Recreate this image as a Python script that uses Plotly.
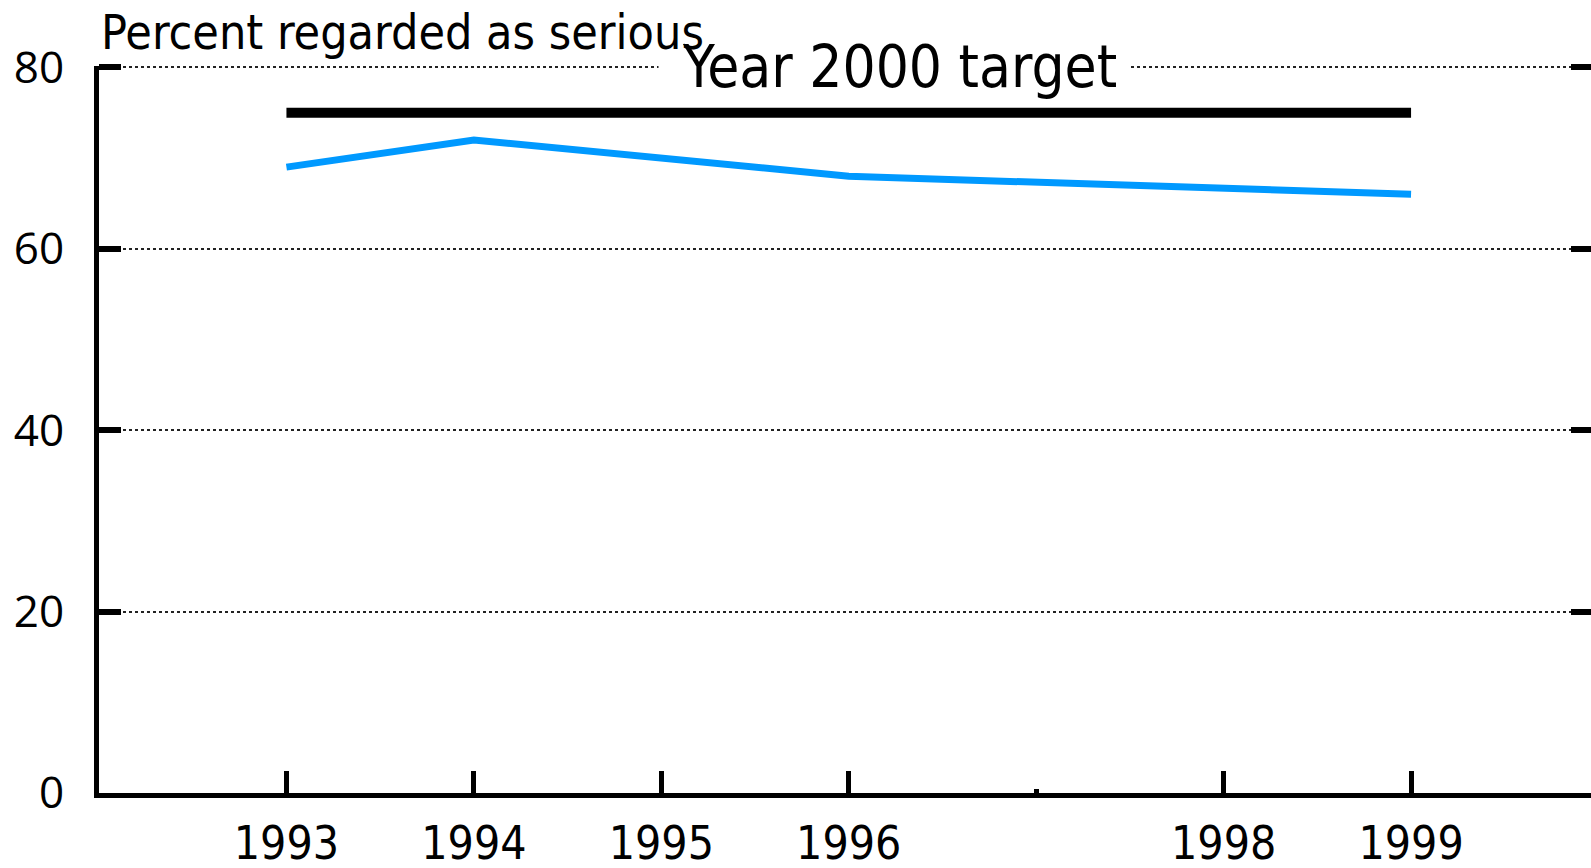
import plotly.graph_objects as go

# survey years and share of people regarding it as serious
years = [1993, 1994, 1996, 1999]
percent_serious = [69, 72, 68, 66]

# year 2000 target
target_years = [1993, 1999]
target_values = [75, 75]

tick_years = [1993, 1994, 1995, 1996, 1998, 1999]
tick_labels = ["1993", "1994", "1995", "1996", "1998", "1999"]
y_ticks = [0, 20, 40, 60, 80]

NARROW = "Liberation Sans Narrow, DejaVu Sans Condensed, Arial Narrow, sans-serif"

fig = go.Figure()
fig.add_trace(go.Scatter(x=target_years, y=target_values, mode="lines",
                         line=dict(color="black", width=10), showlegend=False))
fig.add_trace(go.Scatter(x=years, y=percent_serious, mode="lines",
                         line=dict(color="#0099FF", width=7), showlegend=False))
# invisible trace so the right-side ticks show up
fig.add_trace(go.Scatter(x=target_years, y=target_values, yaxis="y2", mode="lines",
                         line=dict(width=0), hoverinfo="skip", showlegend=False))

fig.update_layout(
    width=1591, height=868, margin=dict(l=99, r=0, t=66, b=75),
    paper_bgcolor="white", plot_bgcolor="white",
    xaxis=dict(
        range=[1992, 1999.96], tickvals=tick_years, ticktext=tick_labels, automargin=False,
        ticks="inside", ticklen=22, tickwidth=5, tickcolor="black",
        showline=True, linewidth=5, linecolor="black", showgrid=False, zeroline=False,
        tickfont=dict(family=NARROW, size=46, color="black"), ticklabelstandoff=6,
        minor=dict(tickvals=[1997], ticks="inside", ticklen=4, tickwidth=5, tickcolor="black",
                   showgrid=False),
    ),
    yaxis=dict(
        range=[0, 80.15], tickvals=y_ticks, automargin=False,
        ticks="inside", ticklen=22, tickwidth=6, tickcolor="black",
        showline=True, linewidth=5, linecolor="black", zeroline=False,
        showgrid=True, gridcolor="#222222", gridwidth=2, griddash="dot",
        tickfont=dict(family="Open Sans, sans-serif", size=44, color="black"),
        ticklabelstandoff=21,
    ),
    yaxis2=dict(
        range=[0, 80.15], tickvals=[20, 40, 60, 80], overlaying="y", side="right", anchor="x",
        ticks="inside", ticklen=20, tickwidth=6, tickcolor="black",
        showline=False, showgrid=False, zeroline=False, showticklabels=False,
    ),
)

# white strip that breaks the top gridline behind the label
fig.add_annotation(
    text=" ", x=1996.24, y=80, xanchor="center", yanchor="middle", showarrow=False,
    bgcolor="white", borderpad=0, width=470, height=12, font=dict(size=8),
)
fig.add_annotation(
    text="Year 2000 target", x=1996.27, y=80, xanchor="center", yanchor="middle",
    showarrow=False, font=dict(family=NARROW, size=58, color="black"),
)
fig.add_annotation(
    text="Percent regarded as serious", xref="paper", yref="paper",
    x=0.0, y=1.0, xanchor="left", yanchor="bottom", yshift=4, showarrow=False,
    font=dict(family=NARROW, size=48, color="black"),
)

fig.write_html("out.html", config={"displayModeBar": False},
               post_script="document.body.style.margin='0px';")
